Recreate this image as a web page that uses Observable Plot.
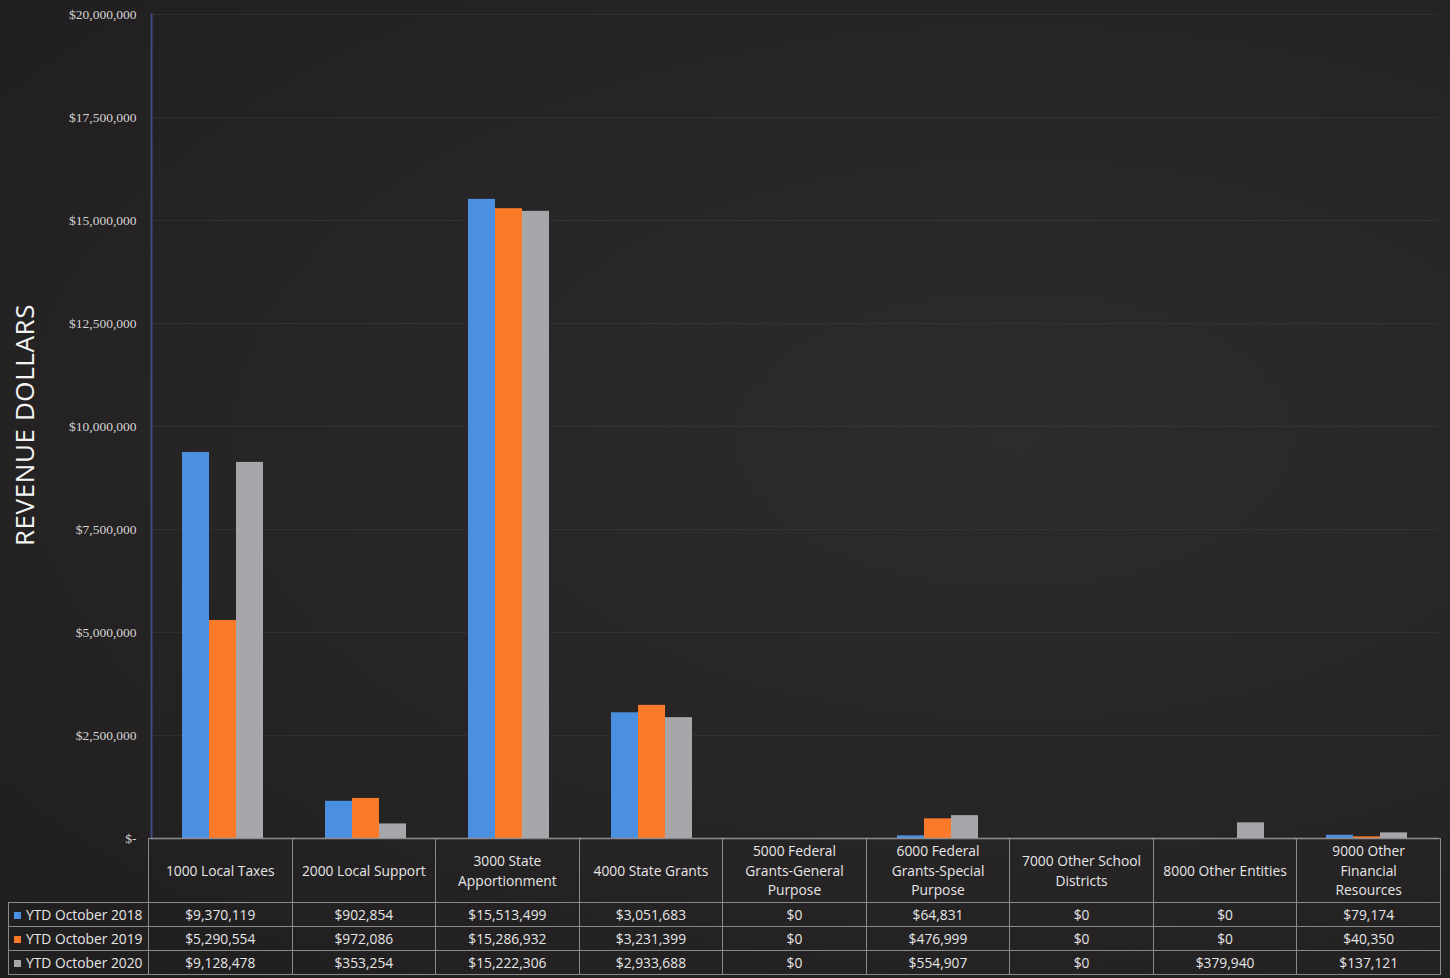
<!DOCTYPE html>
<html>
<head>
<meta charset="utf-8">
<script src="https://cdn.jsdelivr.net/npm/d3@7"></script>
<script src="https://cdn.jsdelivr.net/npm/@observablehq/plot@0.6"></script>
<style>
  html, body { margin: 0; padding: 0; background: #252223; width: 1450px; height: 978px; overflow: hidden; }
  #wrap { position: relative; width: 1450px; height: 978px; background: radial-gradient(ellipse at 70% 45%, #2e2b2c 0%, #272425 55%, #201d1e 100%); }
  #chart { position: absolute; left: 0; top: 0; }
  #ylabel { position: absolute; left: 24px; top: 425px; transform: translate(-50%, -50%) rotate(-90deg); color: #f4f4f4; font: 26px "Open Sans", sans-serif; white-space: nowrap; letter-spacing: 0.6px; }
  #tbl { position: absolute; left: 8px; top: 838px; border-collapse: collapse; table-layout: fixed; width: 1432px; font-family: "Open Sans", sans-serif; color: #e6e6e6; }
  #tbl td { border: 1px solid #8a8a8a; text-align: center; padding: 0; font-size: 13.8px; }
  #tbl tr.head td { height: 63px; line-height: 19.5px; }
  #tbl tr.row td { height: 23px; line-height: 23px; }
  #tbl td.blank { border: none; border-top: none; }
  #tbl td.leg { text-align: left; padding-left: 5px; white-space: nowrap; font-size: 13.8px; }
  .sw { display: inline-block; width: 7px; height: 7px; margin-right: 5px; vertical-align: 1px; }
</style>
</head>
<body>
<div id="wrap">
  <div id="chart"></div>
  <div id="ylabel">REVENUE DOLLARS</div>
  <table id="tbl"></table>
</div>
<script>
const categories = [
  "1000 Local Taxes", "2000 Local Support", "3000 State Apportionment", "4000 State Grants",
  "5000 Federal Grants-General Purpose", "6000 Federal Grants-Special Purpose",
  "7000 Other School Districts", "8000 Other Entities", "9000 Other Financial Resources"
];
const headerLines = [
  ["1000 Local Taxes"], ["2000 Local Support"], ["3000 State", "Apportionment"], ["4000 State Grants"],
  ["5000 Federal", "Grants-General", "Purpose"], ["6000 Federal", "Grants-Special", "Purpose"],
  ["7000 Other School", "Districts"], ["8000 Other Entities"], ["9000 Other", "Financial", "Resources"]
];
const series = ["YTD October 2018", "YTD October 2019", "YTD October 2020"];
const v2018 = [9370119, 902854, 15513499, 3051683, 0, 64831, 0, 0, 79174];
const v2019 = [5290554, 972086, 15286932, 3231399, 0, 476999, 0, 0, 40350];
const v2020 = [9128478, 353254, 15222306, 2933688, 0, 554907, 0, 379940, 137121];
const colors = ["#4a8fe0", "#fa7a2a", "#a7a7ab"];
const yTicks = [0, 2500000, 5000000, 7500000, 10000000, 12500000, 15000000, 17500000, 20000000];

const values = [v2018, v2019, v2020];
const data = categories.flatMap((c, i) => series.map((s, j) => ({category: c, series: s, value: values[j][i]})));

const chart = Plot.plot({
  width: 1450,
  height: 850,
  marginLeft: 148,
  marginRight: 10,
  marginTop: 14,
  marginBottom: 12,
  style: {background: "transparent", color: "#d0d0d0", fontFamily: "'Liberation Serif', serif", fontSize: "13.5px"},
  fx: {domain: categories, padding: 0, axis: null, label: null},
  x: {domain: series, axis: null, paddingInner: 0, paddingOuter: 1.06},
  y: {domain: [0, 20000000], label: null, axis: null},
  color: {domain: series, range: colors},
  marks: [
    Plot.gridY(yTicks, {stroke: "#ffffff", strokeOpacity: 0.05}),
    Plot.barY(data, {fx: "category", x: "series", y: "value", fill: "series"}),
    Plot.axisY(yTicks, {
      anchor: "left",
      tickSize: 0,
      tickPadding: 15,
      tickFormat: d => d === 0 ? "$-" : "$" + d3.format(",")(d),
      fill: "#d4d4d4",
      label: null
    }),
    Plot.frame({anchor: "left", stroke: "#3d4d82", strokeWidth: 2, facetAnchor: "left"}),
    Plot.frame({anchor: "bottom", stroke: "#9a9a9a", strokeWidth: 1.5})
  ]
});
document.getElementById("chart").appendChild(chart);

// data table below the chart
const fmt = v => "$" + d3.format(",")(v);
const tbl = d3.select("#tbl");
const cg = tbl.append("colgroup");
cg.append("col").style("width", "140px");
categories.forEach(() => cg.append("col").style("width", ((1432 - 140) / categories.length) + "px"));
const head = tbl.append("tr").attr("class", "head");
head.append("td").attr("class", "blank");
headerLines.forEach(lines => head.append("td").html(lines.join("<br>")));
series.forEach((s, j) => {
  const tr = tbl.append("tr").attr("class", "row");
  const lg = tr.append("td").attr("class", "leg");
  lg.append("span").attr("class", "sw").style("background", colors[j]);
  lg.append("span").text(s);
  values[j].forEach(v => tr.append("td").text(fmt(v)));
});
</script>
</body>
</html>
